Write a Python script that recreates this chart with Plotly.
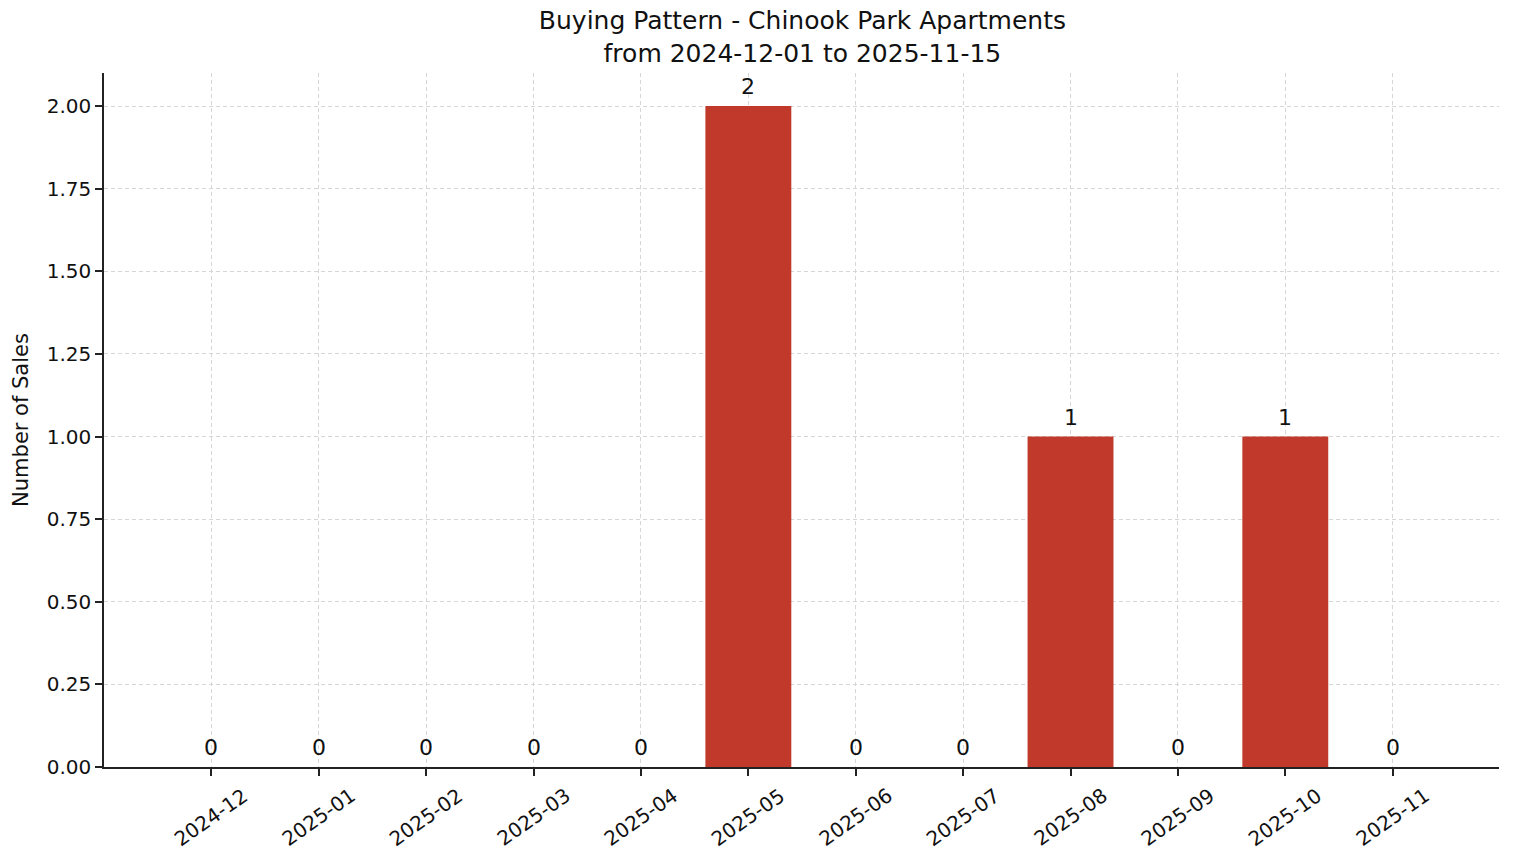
import plotly.graph_objects as go

months = ["2024-12", "2025-01", "2025-02", "2025-03", "2025-04", "2025-05",
          "2025-06", "2025-07", "2025-08", "2025-09", "2025-10", "2025-11"]
sales = [0, 0, 0, 0, 0, 2, 0, 0, 1, 0, 1, 0]

FONT = "DejaVu Sans"
BAR = "#c0392b"
GRID = "#d6d6d6"
INK = "#111111"

fig = go.Figure(go.Bar(
    x=months, y=sales, width=0.8, marker=dict(color=BAR, line=dict(width=0)),
))

# value labels above each bar
for m, v in zip(months, sales):
    fig.add_annotation(x=m, y=v, xref="x", yref="y", text=str(v), showarrow=False,
                       xanchor="center", yanchor="bottom", yshift=5,
                       font=dict(family=FONT, size=22, color=INK))

# month labels centred under the ticks, rotated like the original
for m in months:
    fig.add_annotation(x=m, y=0, xref="x", yref="paper", text=m, showarrow=False,
                       textangle=-35, xanchor="center", yanchor="middle", yshift=-50,
                       font=dict(family=FONT, size=20, color=INK))

fig.update_layout(
    width=1506, height=855,
    paper_bgcolor="white", plot_bgcolor="white",
    margin=dict(l=96, r=15, t=65, b=96),
    font=dict(family=FONT, color=INK),
    title=dict(text="Buying Pattern - Chinook Park Apartments<br>from 2024-12-01 to 2025-11-15",
               x=0.5275, xanchor="center", y=0.975, yanchor="top",
               font=dict(family=FONT, size=25, color=INK)),
    showlegend=False,
)
fig.update_xaxes(
    type="category", range=[-1, 11.99], showticklabels=False,
    showline=True, linecolor="#222222", linewidth=1.5,
    ticks="outside", ticklen=7, tickcolor="#222222", tickwidth=1.5,
    showgrid=True, gridcolor=GRID, griddash="4px,3px", gridwidth=0.8,
    layer="above traces",
)
fig.update_yaxes(
    range=[0, 2.1], tickvals=[0, 0.25, 0.5, 0.75, 1.0, 1.25, 1.5, 1.75, 2.0],
    tickformat=".2f", zeroline=False,
    showline=True, linecolor="#222222", linewidth=1.5,
    ticks="outside", ticklen=7, tickcolor="#222222", tickwidth=1.5,
    tickfont=dict(family=FONT, size=20),
    showgrid=True, gridcolor=GRID, griddash="4px,3px", gridwidth=0.8,
    title=dict(text="Number of Sales", font=dict(family=FONT, size=21), standoff=12),
    layer="above traces",
)

fig.write_html("out.html")
